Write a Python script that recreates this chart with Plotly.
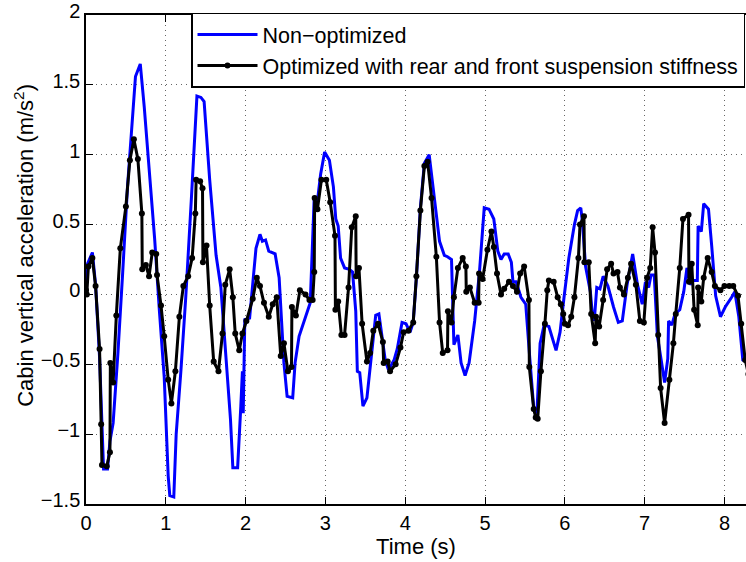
import plotly.graph_objects as go

# Time axis (s) and cabin vertical acceleration (m/s^2) for each configuration
t_nonopt = [0.00, 0.02, 0.08, 0.12, 0.17, 0.21, 0.22, 0.27, 0.30, 0.34, 0.40, 0.46, 0.52, 0.62, 0.68,
            0.73, 0.79, 0.86, 0.92, 0.98, 1.03, 1.05, 1.10, 1.13, 1.19, 1.25, 1.32, 1.39, 1.44, 1.48,
            1.55, 1.63, 1.69, 1.75, 1.81, 1.84, 1.90, 1.94, 1.96, 1.97, 1.99, 2.05, 2.13, 2.18, 2.21,
            2.25, 2.29, 2.37, 2.42, 2.48, 2.52, 2.59, 2.62, 2.67, 2.76, 2.81, 2.86, 2.90, 2.94, 2.99,
            3.05, 3.10, 3.13, 3.16, 3.19, 3.24, 3.30, 3.34, 3.38, 3.40, 3.43, 3.47, 3.52, 3.57, 3.63,
            3.67, 3.71, 3.75, 3.79, 3.86, 3.90, 3.96, 4.01, 4.06, 4.10, 4.14, 4.19, 4.24, 4.30, 4.36,
            4.43, 4.49, 4.53, 4.58, 4.61, 4.66, 4.70, 4.75, 4.80, 4.87, 4.93, 4.99, 5.05, 5.11, 5.16,
            5.20, 5.24, 5.29, 5.33, 5.35, 5.39, 5.45, 5.51, 5.56, 5.61, 5.65, 5.69, 5.74, 5.80, 5.89,
            5.94, 5.99, 6.05, 6.12, 6.16, 6.20, 6.22, 6.26, 6.32, 6.35, 6.37, 6.40, 6.44, 6.48, 6.54,
            6.61, 6.67, 6.72, 6.78, 6.85, 6.91, 6.97, 7.01, 7.05, 7.08, 7.12, 7.16, 7.21, 7.25, 7.29,
            7.30, 7.34, 7.38, 7.44, 7.49, 7.53, 7.57, 7.60, 7.66, 7.67, 7.71, 7.74, 7.80, 7.84, 7.89,
            7.95, 8.01, 8.09, 8.13, 8.18, 8.23, 8.27, 8.30]
a_nonopt = [0.02, 0.22, 0.30, 0.07, -0.45, -1.05, -1.25, -1.25, -1.05, -0.92, -0.42, 0.16, 0.77, 1.56, 1.65,
            1.34, 0.92, 0.40, -0.12, -0.59, -1.30, -1.44, -1.45, -1.00, -0.54, -0.02, 0.68, 1.42, 1.41, 1.38,
            0.82, 0.28, 0.05, -0.42, -0.89, -1.24, -1.24, -0.80, -0.55, -0.85, -0.18, -0.17, 0.33, 0.43, 0.38,
            0.39, 0.31, 0.29, 0.12, -0.49, -0.73, -0.74, -0.49, -0.30, -0.15, -0.06, 0.70, 0.67, 0.86, 1.02,
            0.96, 0.77, 0.54, 0.49, 0.26, 0.19, 0.18, 0.16, -0.12, -0.55, -0.56, -0.80, -0.74, -0.47, -0.15,
            -0.14, -0.30, -0.47, -0.54, -0.47, -0.39, -0.20, -0.21, -0.27, -0.20, 0.12, 0.62, 0.94, 1.00, 0.73,
            0.38, 0.28, 0.27, 0.25, -0.36, -0.29, -0.49, -0.58, -0.49, -0.19, 0.16, 0.62, 0.61, 0.54, 0.31,
            0.25, 0.29, 0.29, 0.23, 0.09, 0.09, -0.02, -0.07, -0.45, -0.81, -0.85, -0.35, -0.22, -0.23, -0.40,
            -0.27, -0.02, 0.26, 0.50, 0.60, 0.62, 0.52, 0.20, 0.02, -0.18, -0.18, 0.05, 0.04, 0.13, 0.06,
            -0.09, -0.20, -0.19, 0.07, 0.29, 0.07, -0.07, 0.09, 0.05, 0.14, 0.14, -0.30, -0.48, -0.63, -0.46,
            -0.19, -0.22, -0.14, -0.11, 0.02, 0.19, 0.07, 0.10, 0.10, 0.49, 0.45, 0.65, 0.61, 0.35, -0.01,
            -0.16, -0.09, -0.02, 0.02, -0.16, -0.47, -0.48, -0.48]

t_opt = [0.00, 0.01, 0.03, 0.08, 0.12, 0.17, 0.19, 0.20, 0.26, 0.30, 0.305, 0.34, 0.38, 0.43, 0.50,
         0.55, 0.60, 0.65, 0.70, 0.705, 0.75, 0.79, 0.83, 0.88, 0.89, 0.94, 0.98, 1.03, 1.07, 1.12,
         1.17, 1.22, 1.28, 1.33, 1.37, 1.38, 1.43, 1.46, 1.465, 1.51, 1.55, 1.60, 1.66, 1.71, 1.745,
         1.80, 1.84, 1.87, 1.92, 1.96, 2.01, 2.09, 2.14, 2.18, 2.23, 2.29, 2.34, 2.39, 2.44, 2.48,
         2.53, 2.575, 2.58, 2.63, 2.68, 2.75, 2.80, 2.84, 2.86, 2.865, 2.90, 2.95, 3.01, 3.06, 3.12,
         3.125, 3.16, 3.20, 3.24, 3.29, 3.33, 3.38, 3.385, 3.42, 3.46, 3.52, 3.56, 3.60, 3.66, 3.72,
         3.73, 3.78, 3.81, 3.88, 3.94, 3.98, 4.04, 4.10, 4.14, 4.19, 4.24, 4.28, 4.33, 4.39, 4.43,
         4.47, 4.53, 4.535, 4.58, 4.61, 4.66, 4.72, 4.76, 4.765, 4.81, 4.87, 4.92, 4.925, 4.97, 5.03,
         5.08, 5.11, 5.15, 5.20, 5.24, 5.30, 5.35, 5.40, 5.44, 5.49, 5.55, 5.555, 5.61, 5.635, 5.66,
         5.70, 5.75, 5.78, 5.80, 5.86, 5.91, 5.95, 5.98, 6.00, 6.04, 6.08, 6.12, 6.17, 6.19, 6.24,
         6.245, 6.30, 6.33, 6.38, 6.39, 6.43, 6.48, 6.53, 6.58, 6.61, 6.66, 6.69, 6.74, 6.79, 6.83,
         6.89, 6.94, 6.99, 7.03, 7.07, 7.10, 7.13, 7.17, 7.20, 7.25, 7.31, 7.36, 7.39, 7.44, 7.48,
         7.55, 7.555, 7.59, 7.62, 7.665, 7.67, 7.71, 7.74, 7.79, 7.84, 7.88, 7.95, 8.00, 8.06, 8.11,
         8.17, 8.21, 8.26, 8.30]
a_opt = [0.03, 0.00, 0.20, 0.26, 0.06, -0.39, -0.93, -1.22, -1.23, -1.13, -0.49, -0.63, -0.15, 0.33, 0.63,
         0.96, 1.11, 0.97, 0.58, 0.18, 0.21, 0.13, 0.30, 0.29, 0.14, -0.08, -0.30, -0.61, -0.78, -0.55,
         -0.16, 0.06, 0.13, 0.26, 0.58, 0.82, 0.81, 0.76, 0.23, 0.35, -0.08, -0.48, -0.55, -0.28, 0.07,
         0.18, -0.02, -0.28, -0.40, -0.28, -0.19, -0.03, 0.12, 0.06, -0.06, -0.16, -0.07, -0.02, -0.44, -0.35,
         -0.55, -0.52, -0.09, -0.15, 0.03, 0.00, -0.04, -0.04, 0.16, 0.69, 0.61, 0.82, 0.82, 0.66, 0.42,
         -0.11, -0.05, -0.29, -0.29, 0.05, 0.48, 0.56, 0.13, 0.19, -0.21, -0.48, -0.42, -0.26, -0.21, -0.34,
         -0.49, -0.48, -0.55, -0.50, -0.38, -0.27, -0.26, -0.20, 0.13, 0.60, 0.92, 0.95, 0.69, 0.27, -0.20,
         -0.42, -0.40, -0.12, -0.20, -0.02, 0.19, 0.26, 0.20, 0.02, 0.05, -0.06, -0.06, 0.15, 0.11, 0.32,
         0.45, 0.34, 0.15, 0.00, 0.04, 0.09, 0.06, 0.02, 0.15, 0.20, -0.04, -0.52, -0.82, -0.88, -0.89,
         -0.55, -0.21, 0.03, 0.10, 0.09, -0.02, -0.07, -0.14, -0.21, -0.22, -0.16, -0.02, 0.26, 0.50, 0.56,
         0.23, 0.23, -0.14, -0.35, -0.16, -0.23, -0.04, 0.18, 0.22, 0.15, 0.16, 0.05, 0.00, 0.12, 0.22,
         0.07, -0.19, -0.20, 0.12, 0.19, 0.48, 0.30, -0.29, -0.67, -0.92, -0.61, -0.35, -0.14, 0.19, 0.54,
         0.57, 0.09, 0.22, -0.11, -0.22, 0.05, -0.05, 0.12, 0.26, 0.16, 0.06, 0.03, 0.06, 0.06, 0.06,
         -0.01, -0.21, -0.47, -0.57]

x_ticks = [0, 1, 2, 3, 4, 5, 6, 7, 8]
y_ticks = [-1.5, -1, -0.5, 0, 0.5, 1, 1.5, 2]

FONT = "Liberation Sans, Arial, Helvetica, sans-serif"

fig = go.Figure()
fig.add_trace(go.Scatter(
    x=t_nonopt, y=a_nonopt, mode="lines", name="Non\u2212optimized",
    line=dict(color="#0000ff", width=3),
))
fig.add_trace(go.Scatter(
    x=t_opt, y=a_opt, mode="lines+markers",
    name="Optimized with rear and front suspension stiffness",
    line=dict(color="#000000", width=3),
    marker=dict(color="#000000", size=6),
))

axis_common = dict(
    showline=True, linecolor="black", linewidth=1.5,
    ticks="inside", ticklen=7, tickcolor="black", tickwidth=1,
    showgrid=True, gridcolor="rgba(0,0,0,0.6)", gridwidth=1, griddash="1px,4px",
    zeroline=False, ticklabeloverflow="allow",
    tickfont=dict(family=FONT, size=20, color="black"),
)

fig.update_xaxes(
    range=[0, 8.27], tickvals=x_ticks, ticktext=[str(v) for v in x_ticks],
    mirror="ticks",
    title=dict(text="Time (s)", font=dict(family=FONT, size=22, color="black"), standoff=4),
    **axis_common,
)
fig.update_yaxes(
    range=[-1.5, 2.0001], tickvals=y_ticks,
    ticktext=[("\u2212" + f"{abs(v):g}") if v < 0 else f"{v:g}" for v in y_ticks],
    mirror=False, ticklabelshift=-4,
    **axis_common,
)

# Vertical axis label, placed as a rotated annotation left of the tick labels
fig.add_annotation(
    text="Cabin vertical acceleration (m/s<sup>2</sup>)",
    xref="paper", yref="paper", x=-0.094, y=0.53,
    xanchor="center", yanchor="middle", textangle=-90, showarrow=False,
    font=dict(family=FONT, size=22, color="black"),
)

fig.update_layout(
    width=746, height=562,
    margin=dict(l=86, r=0, t=6, b=58),
    paper_bgcolor="white", plot_bgcolor="white",
    showlegend=True,
    legend=dict(
        x=0.9985, y=1.005, xanchor="right", yanchor="top",
        bgcolor="white", bordercolor="black", borderwidth=1.5,
        font=dict(family=FONT, size=21.5, color="black"),
        itemwidth=60, tracegroupgap=0,
    ),
)

fig.write_html("out.html")
